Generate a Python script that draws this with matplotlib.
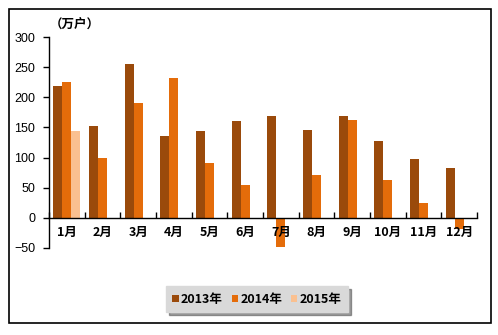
import matplotlib.pyplot as plt
import matplotlib.patches as patches
import numpy as np

plt.rcParams['font.family'] = ['Noto Sans CJK SC', 'DejaVu Sans']

months = ['1月', '2月', '3月', '4月', '5月', '6月', '7月', '8月', '9月', '10月', '11月', '12月']
v2013 = [219, 153, 255, 136, 144, 161, 169, 146, 169, 128, 98, 83]
v2014 = [226, 100, 191, 232, 91, 55, -49, 71, 163, 63, 25, -18]
v2015 = [144]
series_names = ['2013年', '2014年', '2015年']
colors = ['#9A4A0B', '#E46C0A', '#FAC090']

fig = plt.figure(figsize=(4.98, 3.35), dpi=100)
ax = fig.add_axes([49 / 498, 1 - 248 / 335, 428 / 498, 211 / 335])

# outer frame
fig.patches.append(patches.Rectangle((9 / 498, 1 - 323 / 335), 482 / 498, 314 / 335,
                                     transform=fig.transFigure, fill=False,
                                     edgecolor='black', linewidth=1.2))

x = np.arange(len(months))
w = 0.25
ax.bar(x - w, v2013, w, color=colors[0], label=series_names[0])
ax.bar(x, v2014, w, color=colors[1], label=series_names[1])
ax.bar(x[:len(v2015)] + w, v2015, w, color=colors[2], label=series_names[2])

ax.set_xlim(-0.5, len(months) - 0.5)
ax.set_ylim(-50, 300)
ax.set_yticks(range(-50, 301, 50))
ax.tick_params(axis='y', direction='out', length=4, width=1, labelsize=9, pad=6)
for lab in ax.get_yticklabels():
    lab.set_family('Liberation Sans')

ax.spines['top'].set_visible(False)
ax.spines['right'].set_visible(False)
ax.spines['bottom'].set_position(('data', 0))
ax.spines['left'].set_linewidth(1)
ax.spines['bottom'].set_linewidth(1)

ax.set_xticks(np.arange(-0.5, len(months), 1))
ax.set_xticklabels([])
ax.tick_params(axis='x', direction='in', length=4, width=1)
for i, m in enumerate(months):
    ax.text(i, -13, m, ha='center', va='top', fontsize=9, fontweight='bold')

fig.text(50 / 498, 1 - 25 / 335, '（万户）', fontsize=9, fontweight='bold', va='center', ha='left')

leg = ax.legend(loc='center', bbox_to_anchor=(257 / 498, 1 - 299 / 335),
                bbox_transform=fig.transFigure, ncol=3, frameon=True, shadow=True,
                fancybox=False, handlelength=0.5, handleheight=0.5, handletextpad=0.2,
                columnspacing=0.7, borderpad=0.5, prop={'weight': 'bold', 'size': 9})
leg.get_frame().set_facecolor('#D9D9D9')
leg.get_frame().set_edgecolor('#D9D9D9')

fig.savefig('out.png', dpi=100)
